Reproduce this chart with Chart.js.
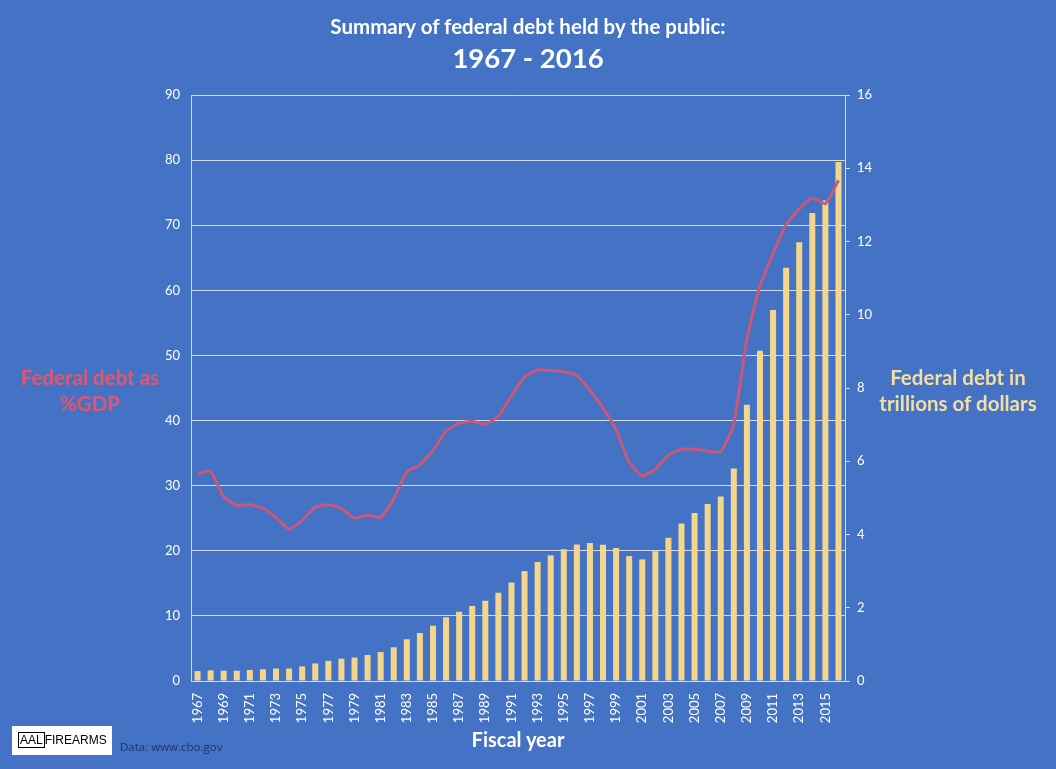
<!DOCTYPE html>
<html>
<head>
<meta charset="utf-8">
<script src="https://cdn.jsdelivr.net/npm/chart.js@4"></script>
<style>
  html, body { margin: 0; padding: 0; background: #4472C4; }
  #wrap { position: relative; width: 1056px; height: 769px; font-family: Lato, "Open Sans", sans-serif; }
  canvas { position: absolute; left: 0; top: 0; }
  .lbl { position: absolute; font-weight: bold; text-align: center; line-height: 26px; }
  #title1 { left: 0; width: 1056px; top: 14px; color: #fff; font-size: 20.5px; text-align: center; font-weight: bold; position: absolute; }
  #title2 { left: 0; width: 1056px; top: 41px; color: #fff; font-size: 27.5px; text-align: center; font-weight: bold; position: absolute; }
  #leftLbl { left: 0px; width: 180px; top: 364px; color: #E5566B; font-size: 20.5px; }
  #rightLbl { left: 858px; width: 200px; top: 364px; color: #F4DFA0; font-size: 20.5px; }
  #xLbl { left: 418px; width: 200px; top: 726px; color: #fff; font-size: 20px; }
  #logo { position: absolute; left: 12px; top: 726px; width: 100px; height: 29px; background: #fff;
          font-family: "Liberation Sans", sans-serif; font-size: 12px; color: #000; line-height: 29px; white-space: nowrap; }
  #logo span.box { border: 1.5px solid #000; padding: 0 1px; margin-left: 6px; }
  #src { position: absolute; left: 120px; top: 739px; font-size: 11.5px; color: #1F3460; font-family: "Open Sans", sans-serif; }
</style>
</head>
<body>
<div id="wrap">
  <canvas id="debtChart" width="1056" height="769"></canvas>
  <div id="title1">Summary of federal debt held by the public:</div>
  <div id="title2">1967 - 2016</div>
  <div class="lbl" id="leftLbl">Federal debt as<br>%GDP</div>
  <div class="lbl" id="rightLbl">Federal debt in<br>trillions of dollars</div>
  <div class="lbl" id="xLbl">Fiscal year</div>
  <div id="logo"><span class="box">AAL</span>FIREARMS</div>
  <div id="src">Data: www.cbo.gov</div>
</div>
<script>
// Dados
const years = [];
for (let y = 1967; y <= 2016; y++) years.push(String(y));

// divida em trilhoes de dolares
const debtTrillions = [
  0.27, 0.29, 0.28, 0.28, 0.30, 0.32, 0.34, 0.34, 0.40, 0.48,
  0.55, 0.61, 0.64, 0.71, 0.79, 0.92, 1.14, 1.31, 1.51, 1.74,
  1.89, 2.05, 2.19, 2.41, 2.69, 3.00, 3.25, 3.43, 3.60, 3.73,
  3.77, 3.72, 3.63, 3.41, 3.32, 3.54, 3.91, 4.30, 4.59, 4.83,
  5.04, 5.80, 7.54, 9.02, 10.13, 11.28, 11.98, 12.78, 13.12, 14.17
];

// divida como % do PIB
const debtPctGdp = [
  31.8, 32.2, 28.3, 27.0, 27.1, 26.5, 25.1, 23.3, 24.7, 26.7,
  27.1, 26.5, 25.0, 25.5, 25.1, 28.0, 32.1, 33.2, 35.4, 38.4,
  39.6, 39.9, 39.4, 40.7, 43.8, 46.7, 47.8, 47.7, 47.5, 46.9,
  44.7, 41.9, 38.6, 33.6, 31.5, 32.5, 34.7, 35.6, 35.6, 35.3,
  35.2, 39.5, 52.5, 60.7, 65.6, 70.1, 72.5, 74.2, 73.3, 76.9
];

const leftTicks = { min: 0, max: 90, step: 10 };
const rightTicks = { min: 0, max: 16, step: 2 };

const tickFont = { family: 'Lato, "Open Sans", sans-serif', size: 13 };

new Chart(document.getElementById('debtChart'), {
    type: 'bar',
    data: {
        labels: years,
        datasets: [{
            type: 'line',
            label: '% GDP',
            data: debtPctGdp,
            yAxisID: 'yLeft',
            borderColor: '#C9587A',
            borderWidth: 3,
            pointRadius: 0,
            tension: 0.15,
            order: 0
        }, {
            type: 'bar',
            label: 'Trillions',
            data: debtTrillions,
            yAxisID: 'yRight',
            backgroundColor: '#F3D68B',
            barPercentage: 0.46,
            categoryPercentage: 1.0,
            order: 1
        }]
    },
    options: {
        responsive: false,
        animation: false,
        layout: { padding: { top: 95 } },
        plugins: {
            legend: { display: false },
            tooltip: { enabled: false }
        },
        scales: {
            x: {
                grid: { display: false },
                border: { display: false },
                ticks: {
                    color: '#fff',
                    font: tickFont,
                    autoSkip: false,
                    minRotation: 90,
                    maxRotation: 90,
                    padding: 4,
                    callback: function(v, i) { return i % 2 === 0 ? this.getLabelForValue(v) : ''; }
                },
                afterFit: s => { s.height = 88; }
            },
            yLeft: {
                position: 'left',
                min: leftTicks.min,
                max: leftTicks.max,
                ticks: { stepSize: leftTicks.step, color: '#fff', font: tickFont, padding: 11 },
                grid: { color: 'rgba(255,255,255,0.75)', drawTicks: false },
                border: { color: 'rgba(255,255,255,0.75)' },
                afterFit: s => { s.width = 191; }
            },
            yRight: {
                position: 'right',
                min: rightTicks.min,
                max: rightTicks.max,
                ticks: { stepSize: rightTicks.step, color: '#fff', font: tickFont, padding: 7 },
                grid: { drawOnChartArea: false, color: 'rgba(255,255,255,0.75)', tickLength: 5 },
                border: { color: 'rgba(255,255,255,0.75)' },
                afterFit: s => { s.width = 211; }
            }
        }
    }
});
</script>
</body>
</html>
